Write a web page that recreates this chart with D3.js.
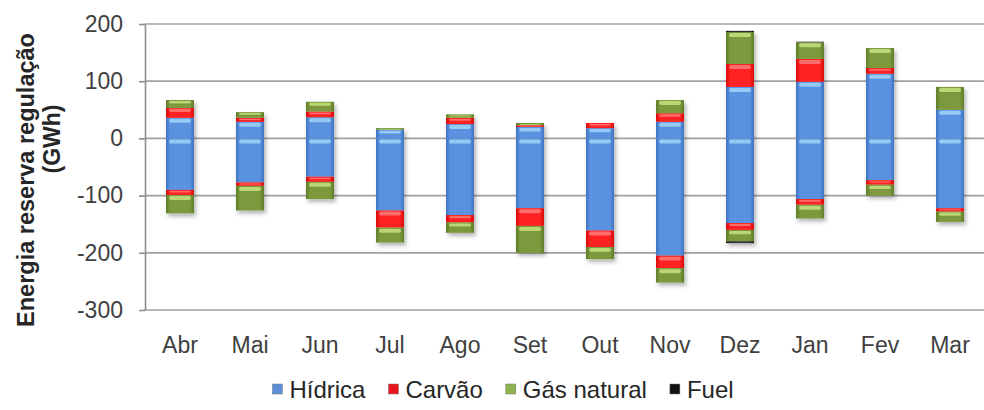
<!DOCTYPE html>
<html>
<head>
<meta charset="utf-8">
<title>Energia reserva regulação</title>
<script src="https://d3js.org/d3.v7.min.js"></script>
<style>
  body { margin: 0; background: #fff; }
  text { font-family: "Liberation Sans", Arial, sans-serif; }
</style>
</head>
<body>
<div id="chart"></div>
<script>

// data (GWh)
var months = ["Abr", "Mai", "Jun", "Jul", "Ago", "Set", "Out", "Nov", "Dez", "Jan", "Fev", "Mar"];
var seriesNames = ["Hídrica", "Carvão", "Gás natural", "Fuel"];

var hidricaUp   = [36, 29, 37, 15, 25, 20, 18, 29, 90, 99, 113, 50];
var carvaoUp    = [17, 7, 10, 0, 11, 3, 9, 15, 40, 40, 10, 0];
var gasUp       = [14, 10, 17, 3, 6, 4, 0, 23, 56, 29, 35, 40];
var fuelUp      = [0, 0, 0, 0, 0, 0, 0, 0, 2, 1, 0, 0];

var hidricaDown = [-90, -77, -67, -126, -134, -122, -161, -205, -148, -106, -73, -122];
var carvaoDown  = [-9, -6, -9, -30, -13, -31, -29, -22, -12, -10, -8, -6];
var gasDown     = [-32, -43, -30, -26, -18, -47, -21, -25, -20, -24, -19, -18];
var fuelDown    = [0, 0, 0, 0, 0, 0, 0, 0, -3, 0, 0, 0];

var yTicks = [200, 100, 0, -100, -200, -300];

var colors = {
    "Hídrica":     { dark: "#3f74c4", mid: "#5a92e0", light: "#9fd4f7", legend: "#5b8fd6" },
    "Carvão":      { dark: "#d80d0d", mid: "#ff2020", light: "#ff7a7a", legend: "#e8141c" },
    "Gás natural": { dark: "#5f7d2a", mid: "#7b9a3c", light: "#c5e07e", legend: "#8db24e" },
    "Fuel":        { dark: "#111111", mid: "#222222", light: "#555555", legend: "#111111" }
};

var W = 984, H = 410;
var plot = { left: 145, right: 985, top: 24, bottom: 310 };

var svg = d3.select("#chart").append("svg")
    .attr("width", W)
    .attr("height", H);

var defs = svg.append("defs");

var shadow = defs.append("filter").attr("id", "shadow")
    .attr("x", "-30%").attr("y", "-10%").attr("width", "160%").attr("height", "120%");
shadow.append("feDropShadow")
    .attr("dx", 2).attr("dy", 3).attr("stdDeviation", 2)
    .attr("flood-color", "#000").attr("flood-opacity", 0.3);

seriesNames.forEach(function(name, i) {
    var c = colors[name];
    var g = defs.append("linearGradient").attr("id", "grad" + i)
        .attr("x1", "0%").attr("x2", "100%").attr("y1", "0%").attr("y2", "0%");
    g.append("stop").attr("offset", "0%").attr("stop-color", c.dark);
    g.append("stop").attr("offset", "15%").attr("stop-color", c.mid);
    g.append("stop").attr("offset", "85%").attr("stop-color", c.mid);
    g.append("stop").attr("offset", "100%").attr("stop-color", c.dark);
});

var x = d3.scaleBand()
    .domain(months)
    .range([plot.left, plot.right])
    .paddingInner(0.6)
    .paddingOuter(0.3);

var y = d3.scaleLinear()
    .domain([-300, 200])
    .range([plot.bottom, plot.top]);

// gridlines
svg.append("g")
    .selectAll("line")
    .data(yTicks)
    .join("line")
    .attr("x1", plot.left)
    .attr("x2", W)
    .attr("y1", function(d) { return y(d); })
    .attr("y2", function(d) { return y(d); })
    .attr("stroke", "#a0a0a0")
    .attr("stroke-width", 1.7);

// y axis
var yAxis = svg.append("g")
    .attr("transform", "translate(" + plot.left + ",0)")
    .call(d3.axisLeft(y).tickValues(yTicks).tickSize(6).tickPadding(16).tickSizeOuter(0)
        .tickFormat(function(d) { return String(d); }));
yAxis.select(".domain").attr("stroke", "#8c8c8c").attr("stroke-width", 1.6);
yAxis.selectAll(".tick line").attr("stroke", "#8c8c8c").attr("stroke-width", 1.6);
yAxis.selectAll("text")
    .attr("fill", "#404040")
    .style("font-size", "23px")
    .style("font-family", "'Liberation Sans', Arial, sans-serif");

// x axis labels
var xAxis = svg.append("g")
    .attr("transform", "translate(0," + plot.bottom + ")")
    .call(d3.axisBottom(x).tickSize(0).tickPadding(27));
xAxis.select(".domain").remove();
xAxis.selectAll("text")
    .attr("fill", "#404040")
    .style("font-size", "23px")
    .style("font-family", "'Liberation Sans', Arial, sans-serif");

// stacks
function rowsFrom(arrs) {
    return months.map(function(m, i) {
        var r = { month: m };
        seriesNames.forEach(function(s, k) { r[s] = arrs[k][i]; });
        return r;
    });
}
var upRows = rowsFrom([hidricaUp, carvaoUp, gasUp, fuelUp]);
var downRows = rowsFrom([hidricaDown, carvaoDown, gasDown, fuelDown]);

var stack = d3.stack().keys(seriesNames).offset(d3.stackOffsetDiverging);
var upStack = stack(upRows);
var downStack = stack(downRows);

var segments = [];
[upStack, downStack].forEach(function(st) {
    st.forEach(function(layer, k) {
        layer.forEach(function(d) {
            if (d[1] - d[0] !== 0) {
                segments.push({ key: layer.key, idx: k, month: d.data.month, y0: d[0], y1: d[1] });
            }
        });
    });
});

var bars = svg.append("g").attr("filter", "url(#shadow)");

var seg = bars.selectAll("g.seg")
    .data(segments)
    .join("g")
    .attr("class", "seg");

seg.append("rect")
    .attr("x", function(d) { return x(d.month); })
    .attr("width", x.bandwidth())
    .attr("y", function(d) { return y(Math.max(d.y0, d.y1)); })
    .attr("height", function(d) { return Math.abs(y(d.y0) - y(d.y1)); })
    .attr("fill", function(d) { return "url(#grad" + d.idx + ")"; });

// bevel highlight at top of each segment
seg.append("rect")
    .attr("x", function(d) { return x(d.month) + 3; })
    .attr("width", x.bandwidth() - 6)
    .attr("y", function(d) { return y(Math.max(d.y0, d.y1)) + 1; })
    .attr("height", function(d) {
        var h = Math.abs(y(d.y0) - y(d.y1));
        return Math.max(0, Math.min(4, h * 0.3));
    })
    .attr("rx", 2)
    .attr("fill", function(d) { return colors[d.key].light; })
    .attr("opacity", 0.85);

// y axis title
svg.append("text")
    .attr("transform", "translate(34,180) rotate(-90)")
    .attr("text-anchor", "middle")
    .attr("fill", "#262626")
    .style("font-size", "23.5px")
    .style("font-weight", "bold")
    .text("Energia reserva regulação");

svg.append("text")
    .attr("transform", "translate(60,139) rotate(-90)")
    .attr("text-anchor", "middle")
    .attr("fill", "#262626")
    .style("font-size", "23px")
    .style("font-weight", "bold")
    .text("(GWh)");

// legend
var legend = svg.append("g").attr("transform", "translate(0,390)");
var items = legend.selectAll("g")
    .data(seriesNames)
    .join("g");
items.append("rect")
    .attr("width", 10)
    .attr("height", 10)
    .attr("y", -6)
    .attr("fill", function(d) { return colors[d].legend; })
    .attr("stroke", "#777")
    .attr("stroke-width", 0.5);
items.append("text")
    .attr("x", 17)
    .attr("y", 8)
    .attr("fill", "#262626")
    .style("font-size", "24px")
    .text(function(d) { return d; });

var offsets = [];
var total = 0;
items.each(function(d, i) {
    var w = 17 + d3.select(this).select("text").node().getComputedTextLength();
    offsets.push(total);
    total += w + (i < seriesNames.length - 1 ? 23 : 0);
});
var startX = 503 - total / 2;
items.attr("transform", function(d, i) { return "translate(" + (startX + offsets[i]) + ",0)"; });

</script>
</body>
</html>
